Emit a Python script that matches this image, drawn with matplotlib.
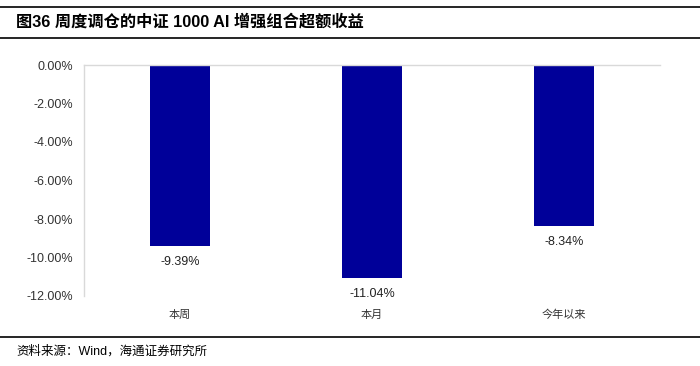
import matplotlib.pyplot as plt

plt.rcParams['font.family'] = ['Liberation Sans', 'Noto Sans CJK SC', 'DejaVu Sans']

categories = ['本周', '本月', '今年以来']
excess_returns = [-9.39, -11.04, -8.34]
yticks = [0, -2, -4, -6, -8, -10, -12]

fig = plt.figure(figsize=(7, 3.66), dpi=100)
W, H = 700, 366

# title block lines
fig.add_artist(plt.Line2D([0, 1], [1 - 7 / H, 1 - 7 / H], color='black', lw=1.2))
fig.add_artist(plt.Line2D([0, 1], [1 - 38 / H, 1 - 38 / H], color='black', lw=1.2))
fig.add_artist(plt.Line2D([0, 1], [1 - 337 / H, 1 - 337 / H], color='black', lw=1.2))
fig.text(16 / W, 1 - 22 / H, '图36 周度调仓的中证 1000 AI 增强组合超额收益',
         fontsize=11.7, fontweight='bold', va='center', ha='left',
         family=['Liberation Sans', 'Noto Sans CJK SC'])
fig.text(16 / W, 1 - 351 / H, '资料来源：Wind，海通证券研究所',
         fontsize=9, va='center', ha='left',
         family=['Liberation Sans', 'Noto Sans CJK SC'])

ax = fig.add_axes([84 / W, 1 - 296 / H, (660 - 84) / W, (296 - 65) / H])
x = range(len(categories))
bars = ax.bar(x, excess_returns, width=0.31, color='#000099')
ax.set_xlim(-0.5, len(categories) - 0.5)
ax.set_ylim(-12, 0)
ax.set_yticks(yticks)
ax.set_yticklabels([f'{v:.2f}%' for v in yticks], fontsize=9, color='#333333')
ax.set_xticks(list(x))
ax.set_xticklabels(categories, fontsize=8, color='#333333',
                   family=['Noto Sans CJK SC', 'DejaVu Sans'])
ax.tick_params(axis='both', length=0, pad=8)
ax.tick_params(axis='x', pad=10)

for spine in ['right', 'bottom']:
    ax.spines[spine].set_visible(False)
for spine in ['left', 'top']:
    ax.spines[spine].set_color('#d9d9d9')
    ax.spines[spine].set_linewidth(1)

for xi, v in zip(x, excess_returns):
    ax.text(xi, v - 0.55, f'{v:.2f}%', ha='center', va='top', fontsize=9, color='#222222')

fig.savefig('out.png', dpi=100)
